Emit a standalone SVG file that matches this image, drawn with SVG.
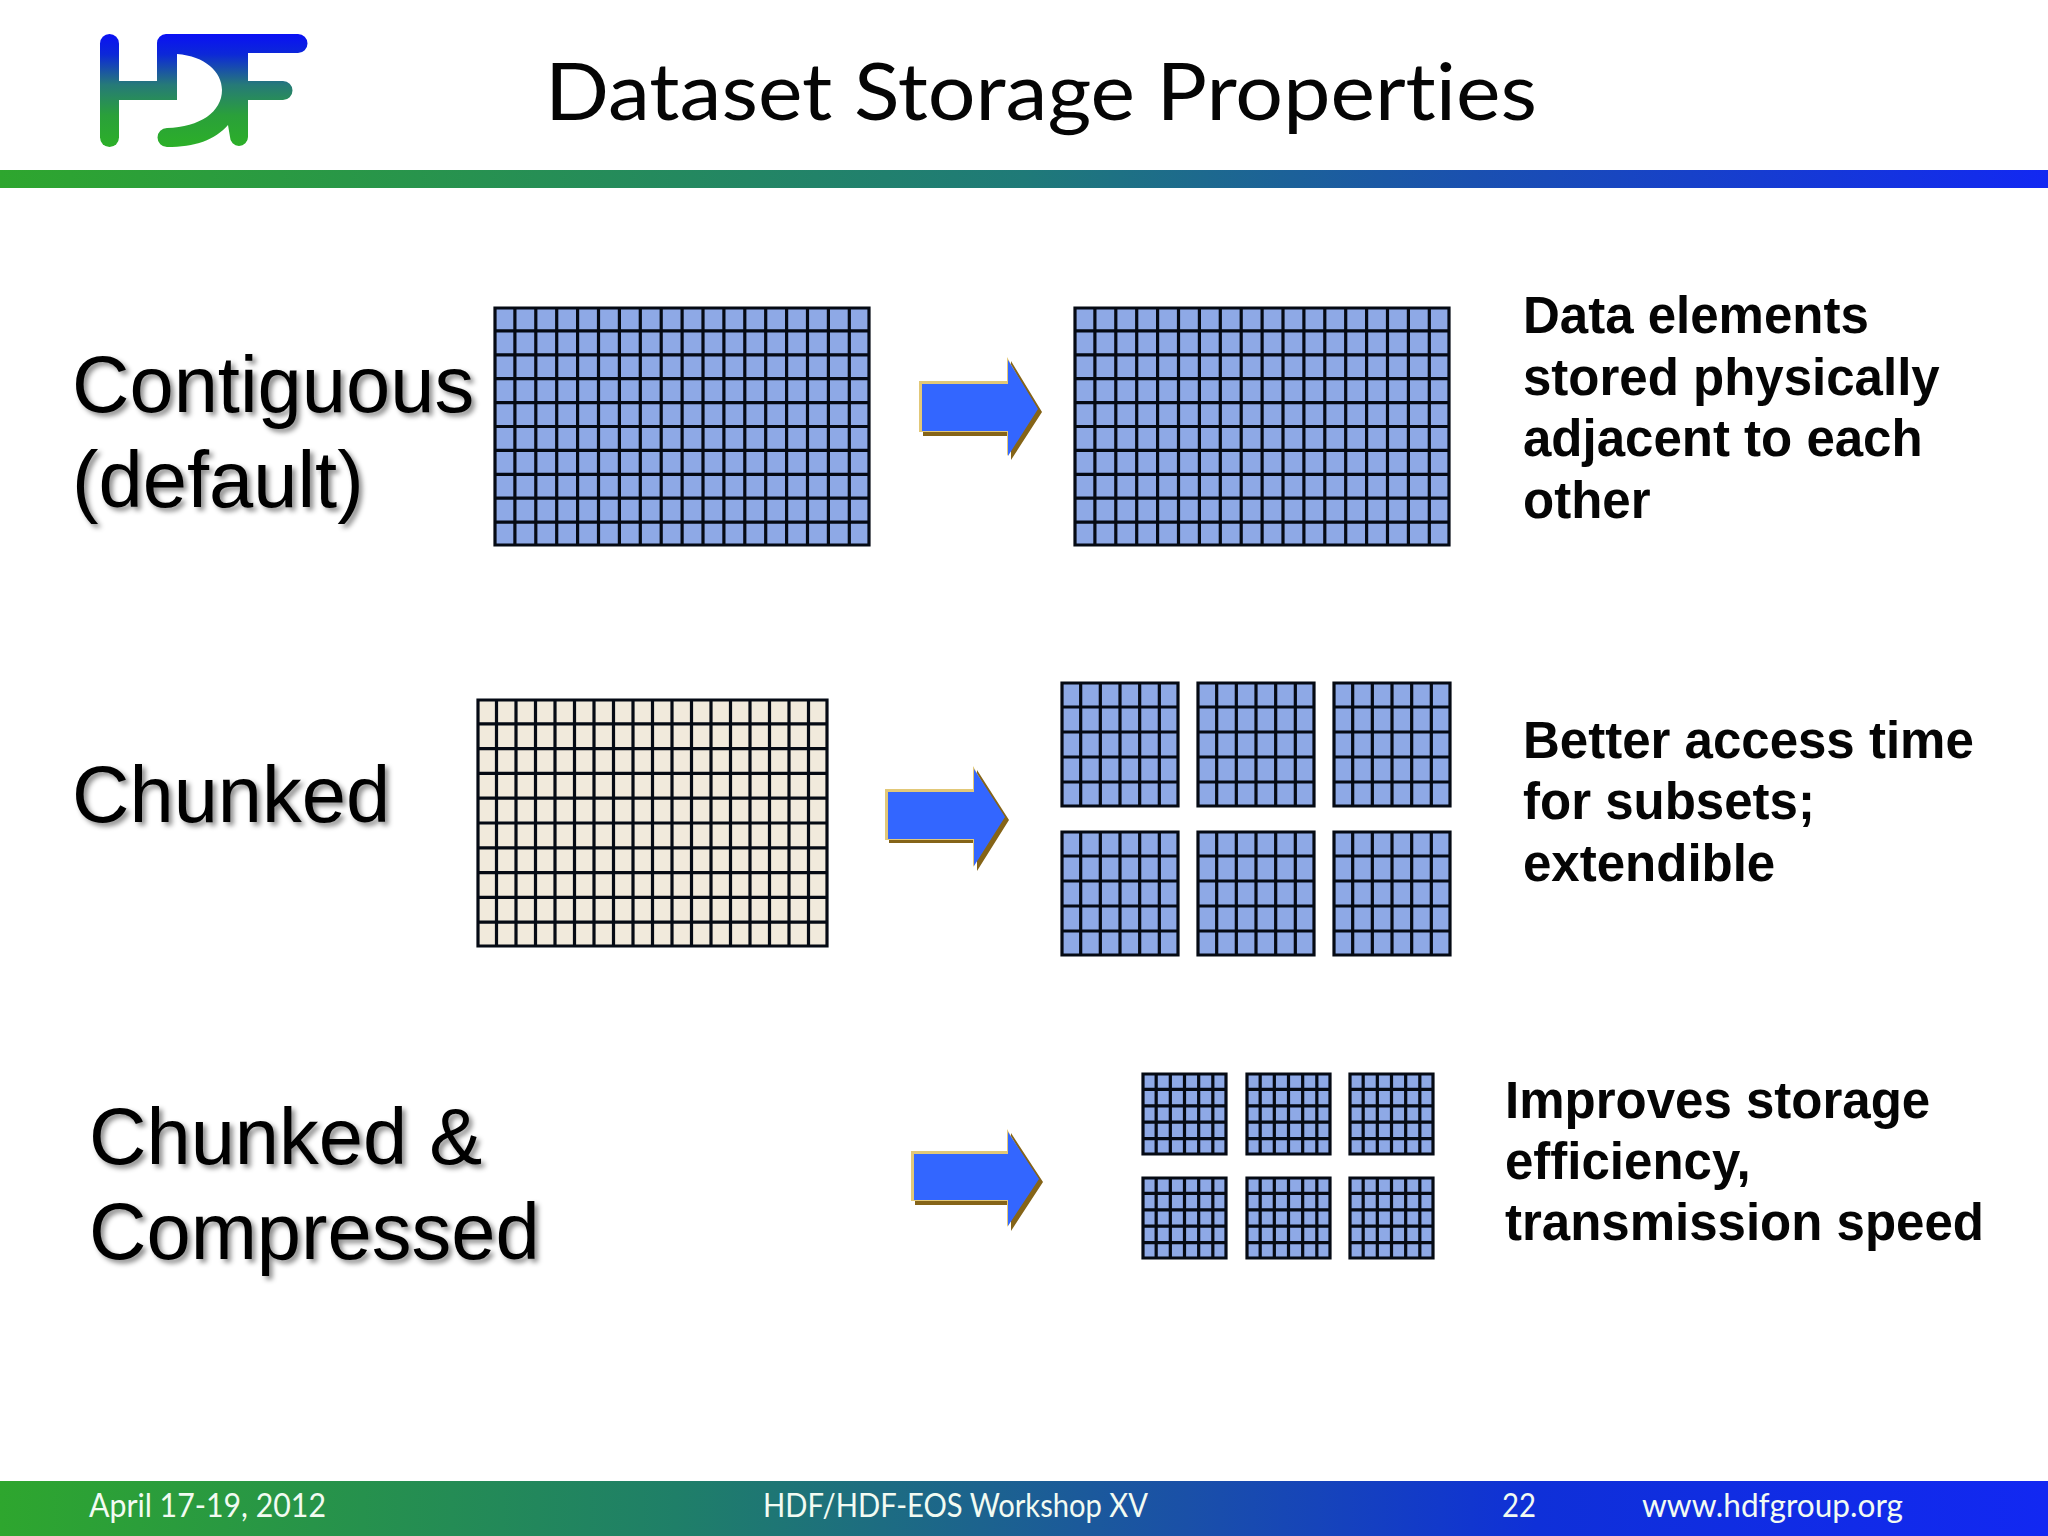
<svg xmlns="http://www.w3.org/2000/svg" width="2048" height="1536" viewBox="0 0 2048 1536">
<style>
.title{font-family:"Lato","Open Sans",sans-serif;font-size:80px;fill:#050505;font-variant-ligatures:none}
.label{font-family:"Liberation Sans",Arial,sans-serif;font-size:79.500px;fill:#050505;filter:url(#sh)}
.desc{font-family:"Liberation Sans",Arial,sans-serif;font-weight:700;font-size:51px;fill:#050505}
.foot{font-family:"Lato","Open Sans",sans-serif;font-size:32px;fill:#f2fbf2;font-variant-ligatures:none}
.b{fill:#8ea9e6}.c{fill:#f1eadc}
.g{fill:none;stroke:#050a14;stroke-width:3.200}
</style>
<defs>
<linearGradient id="bar" x1="0" x2="1" y1="0" y2="0"><stop offset="0" stop-color="#2ea62e"/><stop offset=".5" stop-color="#1f7a78"/><stop offset=".72" stop-color="#1a50b0"/><stop offset="1" stop-color="#1228f2"/></linearGradient>
<linearGradient id="fbar" x1="0" x2="1" y1="0" y2="0"><stop offset="0" stop-color="#2ea62e"/><stop offset=".33" stop-color="#1f7f68"/><stop offset=".58" stop-color="#1a50a8"/><stop offset=".75" stop-color="#0f30d8"/><stop offset="1" stop-color="#1228f2"/></linearGradient>
<linearGradient id="logo" gradientUnits="userSpaceOnUse" x1="0" x2="0" y1="34" y2="147"><stop offset="0" stop-color="#0a10f4"/><stop offset=".18" stop-color="#0c28d8"/><stop offset=".45" stop-color="#267a78"/><stop offset=".72" stop-color="#2aa03a"/><stop offset="1" stop-color="#2cb028"/></linearGradient>
<filter id="sh" x="-10%" y="-20%" width="120%" height="140%"><feDropShadow dx="3.500" dy="3.500" stdDeviation="2.500" flood-color="#000" flood-opacity=".45"/></filter>
<path id="big" class="g" d="M1 1H375V238H1ZM20.900 0V239M41.800 0V239M62.700 0V239M83.600 0V239M104.500 0V239M125.400 0V239M146.300 0V239M167.200 0V239M188.100 0V239M209 0V239M229.900 0V239M250.800 0V239M271.700 0V239M292.600 0V239M313.500 0V239M334.400 0V239M355.300 0V239M0 23.900H376M0 47.800H376M0 71.700H376M0 95.600H376M0 119.500H376M0 143.400H376M0 167.300H376M0 191.200H376M0 215.100H376"/>
<path id="bei" class="g" d="M1 1H350V247H1ZM19.500 0V248M39 0V248M58.500 0V248M78 0V248M97.500 0V248M117 0V248M136.500 0V248M156 0V248M175.500 0V248M195 0V248M214.500 0V248M234 0V248M253.500 0V248M273 0V248M292.500 0V248M312 0V248M331.500 0V248M0 24.800H351M0 49.600H351M0 74.400H351M0 99.200H351M0 124H351M0 148.800H351M0 173.600H351M0 198.400H351M0 223.200H351"/>
<g id="ch"><rect class="b" x="1" y="1" width="116" height="123"/><path class="g" d="M1 1H117V124H1ZM19.670 0V125M39.330 0V125M59 0V125M78.670 0V125M98.330 0V125M0 25H118M0 50H118M0 75H118M0 100H118"/></g>
<g id="sm"><rect class="b" x="1" y="1" width="83" height="80"/><path class="g" d="M1 1H84V81H1ZM14.170 0V82M28.330 0V82M42.500 0V82M56.670 0V82M70.830 0V82M0 16.400H85M0 32.800H85M0 49.200H85M0 65.600H85"/></g>
</defs>
<rect width="2048" height="1536" fill="#fff"/>
<g id="logo-mark" fill="url(#logo)">
<rect x="100" y="34" width="19" height="113" rx="9.500"/>
<rect x="119" y="81" width="58" height="19"/>
<path d="M166 34H298a9.500 9.500 0 0 1 0 19H248V81H283a9.500 9.500 0 0 1 0 19H248V137a9 9 0 0 1-18 0L228 125C215 140 195 147 167 147a9.500 9.500 0 0 1 0-19C200 127 222 112 222 90C222 72 205 56 177 54V100H157V43a9 9 0 0 1 9-9Z"/>
</g>
<g id="header">
<rect y="170" width="2048" height="18" fill="url(#bar)"/>
<text class="title" x="545" y="119.500" textLength="992" lengthAdjust="spacingAndGlyphs">Dataset Storage Properties</text>
</g>
<g id="row-contiguous">
<text class="label" x="72" y="412">Contiguous</text>
<text class="label" x="72" y="507">(default)</text>
<g id="contig-source"><rect class="b" x="495" y="308" width="374" height="237"/><use href="#big" x="494" y="307"/></g>
<g id="contig-stored"><rect class="b" x="1075" y="308" width="374" height="237"/><use href="#big" x="1074" y="307"/></g>
<g id="contig-desc" class="desc">
<text x="1523" y="333">Data elements</text>
<text x="1523" y="394.500">stored physically</text>
<text x="1523" y="456">adjacent to each</text>
<text x="1523" y="518">other</text>
</g>
</g>
<g id="row-chunked">
<text class="label" x="72" y="822">Chunked</text>
<g id="chunk-source"><rect class="c" x="478" y="700" width="349" height="246"/><use href="#bei" x="477" y="699"/></g>
<g id="chunk-stored">
<use href="#ch" x="1061" y="682"/><use href="#ch" x="1197" y="682"/><use href="#ch" x="1333" y="682"/>
<use href="#ch" x="1061" y="831"/><use href="#ch" x="1197" y="831"/><use href="#ch" x="1333" y="831"/>
</g>
<g id="chunk-desc" class="desc">
<text x="1523" y="758">Better access time</text>
<text x="1523" y="819">for subsets;</text>
<text x="1523" y="881">extendible</text>
</g>
</g>
<g id="row-compressed">
<text class="label" x="89" y="1163.500">Chunked &amp;</text>
<text class="label" x="89" y="1259">Compressed</text>
<g id="compressed-stored">
<use href="#sm" x="1142" y="1073"/><use href="#sm" x="1246" y="1073"/><use href="#sm" x="1349" y="1073"/>
<use href="#sm" x="1142" y="1177"/><use href="#sm" x="1246" y="1177"/><use href="#sm" x="1349" y="1177"/>
</g>
<g id="compressed-desc" class="desc">
<text x="1505" y="1118">Improves storage</text>
<text x="1505" y="1179">efficiency,</text>
<text x="1505" y="1240">transmission speed</text>
</g>
</g>
<g id="connectors">
<g id="arrow-1">
<path d="M923 385H1011V361L1042 412L1011 460V436H923Z" fill="#856418"/>
<path d="M919 381H1007V357L1036 409L1007 456V432H919Z" fill="#e2c878"/>
<path d="M922 384H1008V360L1038 409L1008 456V431H922Z" fill="#3366ff"/>
</g>
<g id="arrow-2">
<path d="M889 793H977V770L1009 820L977 871V843H889Z" fill="#856418"/>
<path d="M885 789H973V766L1002 817L973 867V840H885Z" fill="#e2c878"/>
<path d="M888 792H974V769L1005 817L974 866V839H888Z" fill="#3366ff"/>
</g>
<g id="arrow-3">
<path d="M915 1155H1011V1133L1043 1182L1011 1231V1205H915Z" fill="#856418"/>
<path d="M911 1151H1007V1129L1036 1179L1007 1227V1201H911Z" fill="#e2c878"/>
<path d="M914 1154H1008V1132L1039 1179L1008 1226V1200H914Z" fill="#3366ff"/>
</g>
</g>
<g id="footer">
<rect y="1481" width="2048" height="55" fill="url(#fbar)"/>
<text class="foot" x="89" y="1517" textLength="237" lengthAdjust="spacingAndGlyphs">April 17-19, 2012</text>
<text class="foot" x="763" y="1517" textLength="385" lengthAdjust="spacingAndGlyphs">HDF/HDF-EOS Workshop XV</text>
<text class="foot" x="1502" y="1517" textLength="34" lengthAdjust="spacingAndGlyphs">22</text>
<text class="foot" x="1642" y="1517" textLength="261" lengthAdjust="spacingAndGlyphs">www.hdfgroup.org</text>
</g>
</svg>
